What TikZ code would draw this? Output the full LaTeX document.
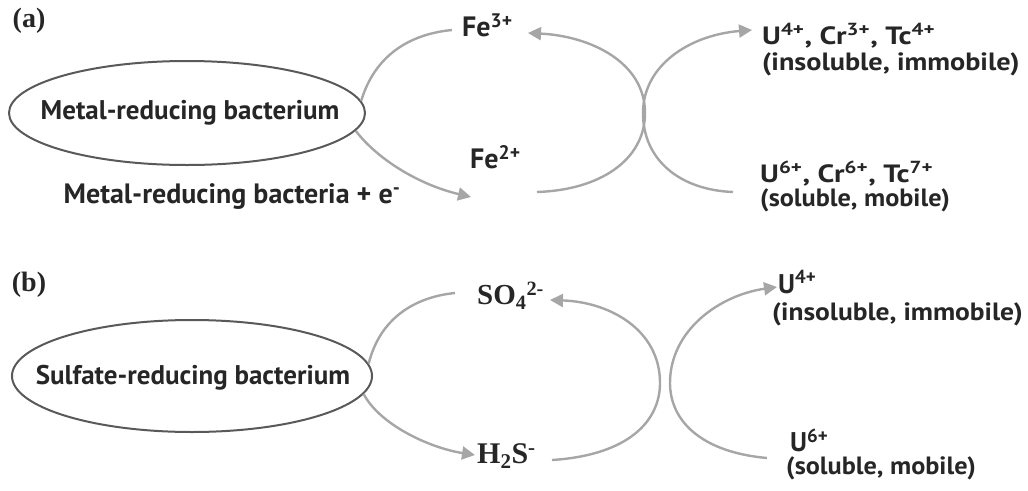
\documentclass[tikz,border=0pt]{standalone}
\usepackage{fontspec}
\usepackage{graphicx}
\setmainfont{PT Sans}
\newfontfamily\serifb{Liberation Serif}
\usetikzlibrary{shapes.geometric,arrows.meta}
\newcommand{\fs}[1]{\fontsize{#1}{#1}\selectfont}
\newcommand{\wide}[2]{\scalebox{#1}[1]{\fs{25}#2}}
\tikzset{
  txt/.style={font=\bfseries, text=black!85, inner sep=0pt},
  ser/.style={font=\serifb\bfseries, text=black!85, inner sep=0pt},
  bact/.style={ellipse, draw=gray!70!black, line width=2pt, inner sep=0pt},
  flow/.style={draw=gray!70, line width=2.4pt},
  flowtip/.style={flow, -{Triangle[length=13pt,width=13pt,fill=gray!70]}},
}
\begin{document}
\begin{tikzpicture}[x=1pt,y=-1pt]
\useasboundingbox (0,0) rectangle (1028,490);
% ---------- (a) ----------
\node[ser] (la) at (29,21) {\fs{28}(a)};
\node[bact, minimum width=356pt, minimum height=104pt] (e1) at (187,113) {};
\node[txt] (t1) at (190,113) {\fs{27}Metal-reducing bacterium};
\node[txt] (t2) at (232,197) {\fs{28}Metal-reducing bacteria + e\textsuperscript{-}};
\node[txt, anchor=west] (fe3) at (462,25) {\fs{28}Fe\textsuperscript{3+}};
\node[txt, anchor=west] (fe2) at (470,157) {\fs{28}Fe\textsuperscript{2+}};
\node[txt, anchor=west] (u4a) at (762,36) {\wide{1.2}{U\textsuperscript{4+}, Cr\textsuperscript{3+}, Tc\textsuperscript{4+}}};
\node[txt, anchor=west] (ia) at (762,64) {\wide{1.13}{(insoluble, immobile)}};
\node[txt, anchor=west] (u6a) at (760,174) {\wide{1.2}{U\textsuperscript{6+}, Cr\textsuperscript{6+}, Tc\textsuperscript{7+}}};
\node[txt, anchor=west] (sa) at (760,200) {\wide{1.05}{(soluble, mobile)}};
\coordinate (a1s) at (e1.4);
\coordinate (a1e) at (452,30);
\coordinate (a2s) at (e1.-6);
\coordinate (a2e) at (471,197);
\coordinate (c1s) at (537,192);
\coordinate (c1m) at (645,113);
\coordinate (c1e) at (528,33);
\coordinate (c2s) at (733,192);
\coordinate (c2m) at (643,113);
\coordinate (c2e) at (752,30);
\draw[flow] (a1s) .. controls (375,55) and (410,34) .. (a1e);
\draw[flowtip] (a2s) .. controls (378,160) and (420,185) .. (a2e);
\draw[flowtip] (c1s) .. controls (600,190) and (645,160) .. (c1m) .. controls (645,62) and (590,36) .. (c1e);
\draw[flowtip] (c2s) .. controls (680,190) and (643,160) .. (c2m) .. controls (643,65) and (690,35) .. (c2e);
% ---------- (b) ----------
\node[ser] (lb) at (29,285) {\fs{28}(b)};
\node[bact, minimum width=360pt, minimum height=112pt] (e2) at (192,376) {};
\node[txt] (t3) at (193,378) {\fs{27}Sulfate-reducing bacterium};
\node[ser, anchor=west] (so4) at (477,296) {\fs{29}SO\textsubscript{4}\textsuperscript{2-}};
\node[ser, anchor=west] (h2s) at (477,456) {\fs{30}H\textsubscript{2}S\textsuperscript{-}};
\node[txt, anchor=west] (u4b) at (778,282) {\fs{27}U\textsuperscript{4+}};
\node[txt, anchor=west] (ib) at (772,314) {\wide{1.1}{(insoluble, immobile)}};
\node[txt, anchor=west] (u6b) at (790,440) {\fs{27}U\textsuperscript{6+}};
\node[txt, anchor=west] (sb) at (786,468) {\wide{1.05}{(soluble, mobile)}};
\coordinate (b1s) at (e2.4);
\coordinate (b1e) at (455,293);
\coordinate (b2s) at (e2.-6);
\coordinate (b2e) at (475,455);
\coordinate (d1s) at (552,460);
\coordinate (d1m) at (660,383);
\coordinate (d1e) at (550,300);
\coordinate (d2s) at (767,458);
\coordinate (d2m) at (670,383);
\coordinate (d2e) at (777,287);
\draw[flow] (b1s) .. controls (380,318) and (415,297) .. (b1e);
\draw[flowtip] (b2s) .. controls (380,425) and (430,448) .. (b2e);
\draw[flowtip] (d1s) .. controls (630,455) and (660,420) .. (d1m) .. controls (660,330) and (610,302) .. (d1e);
\draw[flowtip] (d2s) .. controls (700,452) and (670,420) .. (d2m) .. controls (670,330) and (720,295) .. (d2e);
\end{tikzpicture}
\end{document}
